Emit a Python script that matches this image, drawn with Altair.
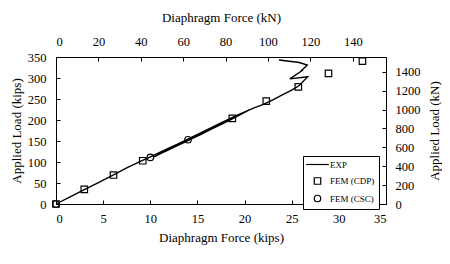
import altair as alt
import pandas as pd

# EXP curve (kips, kips)
exp_force = [0, 1.5, 3.0, 4.5, 6.0, 7.5, 9.0, 10.0, 11.5, 13.0, 14.5, 12.0, 10.3, 11.8, 13.5,
             15.5, 16.5, 14.0, 12.2, 10.8, 12.5, 14.2, 16.2, 18.0, 15.5, 13.3, 11.5, 13.0,
             15.5, 17.5, 19.0, 20.5, 18.5, 16.0, 14.2, 15.8, 17.8, 19.5, 21.0,
             22.0, 23.0, 24.0, 25.0, 25.8, 26.7, 24.8, 26.2, 25.9, 26.65, 25.8, 23.65]
exp_load = [0, 17, 34, 51, 68, 86, 102, 112, 128, 144, 160, 130, 111, 128, 148,
            170, 181, 151, 132, 118, 138, 157, 179, 198, 167, 144, 124, 142,
            171, 193, 209, 224, 200, 173, 153, 174, 196, 214, 229,
            237, 248, 260, 271, 282, 303, 298, 319, 315, 331, 337, 343]

# FEM (CDP) squares
cdp_force = [0, 3.0, 6.1, 9.2, 18.7, 22.3, 25.7, 28.9, 32.5]
cdp_load = [0, 35, 69, 103, 204, 245, 279, 311, 340]

# FEM (CSC) circles
csc_force = [0, 10.0, 14.0]
csc_load = [0, 111, 153]

x_ticks = [0, 5, 10, 15, 20, 25, 30, 35]
y_ticks = [0, 50, 100, 150, 200, 250, 300, 350]
kn_x_ticks = [0, 20, 40, 60, 80, 100, 120, 140]
kn_y_ticks = [0, 200, 400, 600, 800, 1000, 1200, 1400]

KIP_KN = 4.448
x_max, y_max = 35, 350

exp_df = pd.DataFrame({"force": exp_force, "load": exp_load, "order": range(len(exp_force))})
fem_df = pd.DataFrame({
    "force": cdp_force + csc_force,
    "load": cdp_load + csc_load,
    "series": ["FEM (CDP)"] * len(cdp_force) + ["FEM (CSC)"] * len(csc_force),
})
kn_df = pd.DataFrame({"fkn": [0, x_max * KIP_KN], "lkn": [0, y_max * KIP_KN]})

FONT = "Liberation Serif"
common = dict(labelFont=FONT, titleFont=FONT, labelFontSize=12.5, titleFontSize=13,
              titleFontWeight="normal", labelColor="black", titleColor="black",
              tickColor="black", tickWidth=1, offset=-4, tickSize=4, domain=False,
              grid=False, format="d")

xs = alt.Scale(domain=[0, x_max], nice=False, zero=True)
ys = alt.Scale(domain=[0, y_max], nice=False, zero=True)

x_axis = alt.Axis(values=x_ticks, title="Diaphragm Force (kips)", orient="bottom",
                  labelPadding=8, titlePadding=7, **common)
y_axis = alt.Axis(values=y_ticks, title="Applied Load (kips)", orient="left",
                  labelPadding=10, titlePadding=4, **common)

line = alt.Chart(exp_df).mark_line(color="black", strokeWidth=1.4).encode(
    x=alt.X("force:Q", scale=xs, axis=x_axis),
    y=alt.Y("load:Q", scale=ys, axis=y_axis),
    order="order:Q",
)

pts = alt.Chart(fem_df).mark_point(color="black", filled=False, size=42, strokeWidth=1.2, opacity=1).encode(
    x=alt.X("force:Q", scale=xs, axis=x_axis),
    y=alt.Y("load:Q", scale=ys, axis=y_axis),
    shape=alt.Shape("series:N",
                    scale=alt.Scale(domain=["EXP", "FEM (CDP)", "FEM (CSC)"],
                                    range=["M-3.5,0L3.5,0", "square", "circle"]),
                    legend=alt.Legend(title=None, orient="none", legendX=247, legendY=99,
                                      padding=4, strokeColor="black", fillColor="white",
                                      symbolSize=42, symbolStrokeColor="black",
                                      symbolStrokeWidth=1.2, symbolOffset=6,
                                      labelFont=FONT, labelFontSize=9, labelColor="black",
                                      labelOffset=8, rowPadding=4.5)),
)

kn = alt.Chart(kn_df).mark_point(opacity=0).encode(
    x=alt.X("fkn:Q", scale=alt.Scale(domain=[0, x_max * KIP_KN], nice=False),
            axis=alt.Axis(values=kn_x_ticks, title="Diaphragm Force (kN)", orient="top",
                          labelPadding=9, titlePadding=11, **common)),
    y=alt.Y("lkn:Q", scale=alt.Scale(domain=[0, y_max * KIP_KN], nice=False),
            axis=alt.Axis(values=kn_y_ticks, title="Applied Load (kN)", orient="right",
                          labelPadding=9, titlePadding=8, titleAngle=270,
                          titleBaseline="top", **common)),
)

main = alt.layer(line, pts)

chart = alt.layer(main, kn).resolve_scale(x="independent", y="independent").properties(
    width=330, height=147,
    autosize=alt.AutoSizeParams(type="none"),
    padding={"left": 48, "top": 49, "right": 56, "bottom": 52},
    background="white",
).configure_view(stroke="black", strokeWidth=1)

chart.save("out.html", embed_options={"renderer": "svg", "actions": False})
